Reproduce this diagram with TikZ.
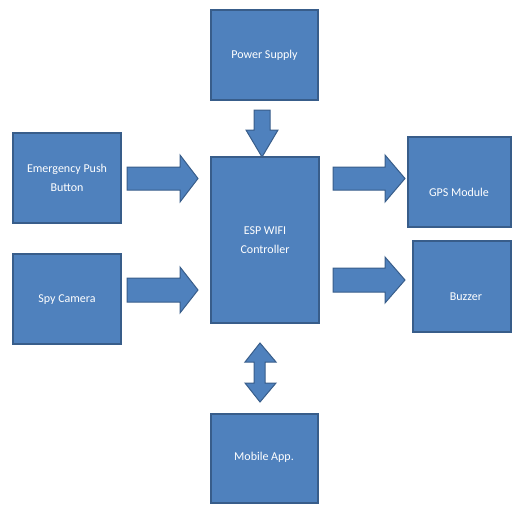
\documentclass[tikz,border=0pt]{standalone}
\usepackage{fontspec}
\setmainfont{Carlito}
\definecolor{boxfill}{HTML}{4F81BD}
\definecolor{boxline}{HTML}{385D8A}
\begin{document}
\begin{tikzpicture}[x=1pt,y=-1pt,
  blk/.style={draw=boxline,line width=1.3pt,fill=boxfill,text=white,font=\fontsize{12}{19}\selectfont,align=center,inner sep=0pt},
  barrow/.style={draw=boxline,line width=1pt,fill=boxfill,line join=miter}]
\useasboundingbox (0,0) rectangle (512,504);
% boxes
\draw[blk] (211,10) rectangle (318,100) node[midway] (ps) {Power Supply};
\draw[blk] (13,133) rectangle (121,223) node[midway] (epb) {Emergency Push\\Button};
\draw[blk] (13,254) rectangle (121,344);
\node[blk,draw=none,fill=none] (spy) at (67,300) {Spy Camera};
\draw[blk] (211,157) rectangle (319,323);
\node[blk,draw=none,fill=none] (esp) at (265,240) {ESP WIFI\\Controller};
\draw[blk] (408,137) rectangle (511,227);
\node[blk,draw=none,fill=none] (gps) at (459,192) {GPS Module};
\draw[blk] (413,241) rectangle (511,332);
\node[blk,draw=none,fill=none] (buz) at (466,297) {Buzzer};
\draw[blk] (211,414) rectangle (318,503);
\node[blk,draw=none,fill=none] (app) at (264,457) {Mobile App.};
% block arrows
% down arrow from power supply
\draw[barrow] (254,110) -- (270,110) -- (270,130) -- (278,130) -- (262,157) -- (246,130) -- (254,130) -- cycle;
% left arrows
\draw[barrow] (127,167) -- (180,167) -- (180,155) -- (198,178.5) -- (180,202) -- (180,190) -- (127,190) -- cycle;
\draw[barrow] (127,278) -- (180,278) -- (180,267) -- (198,290) -- (180,313) -- (180,302) -- (127,302) -- cycle;
% right arrows
\draw[barrow] (333,167) -- (385,167) -- (385,155) -- (405,178.5) -- (385,202) -- (385,190) -- (333,190) -- cycle;
\draw[barrow] (333,268) -- (385,268) -- (385,257) -- (405,280) -- (385,303) -- (385,292) -- (333,292) -- cycle;
% double arrow
\draw[barrow] (260,343) -- (276,362) -- (265,362) -- (265,383) -- (276,383) -- (260,402) -- (245,383) -- (254,383) -- (254,362) -- (245,362) -- cycle;
\end{tikzpicture}
\end{document}
